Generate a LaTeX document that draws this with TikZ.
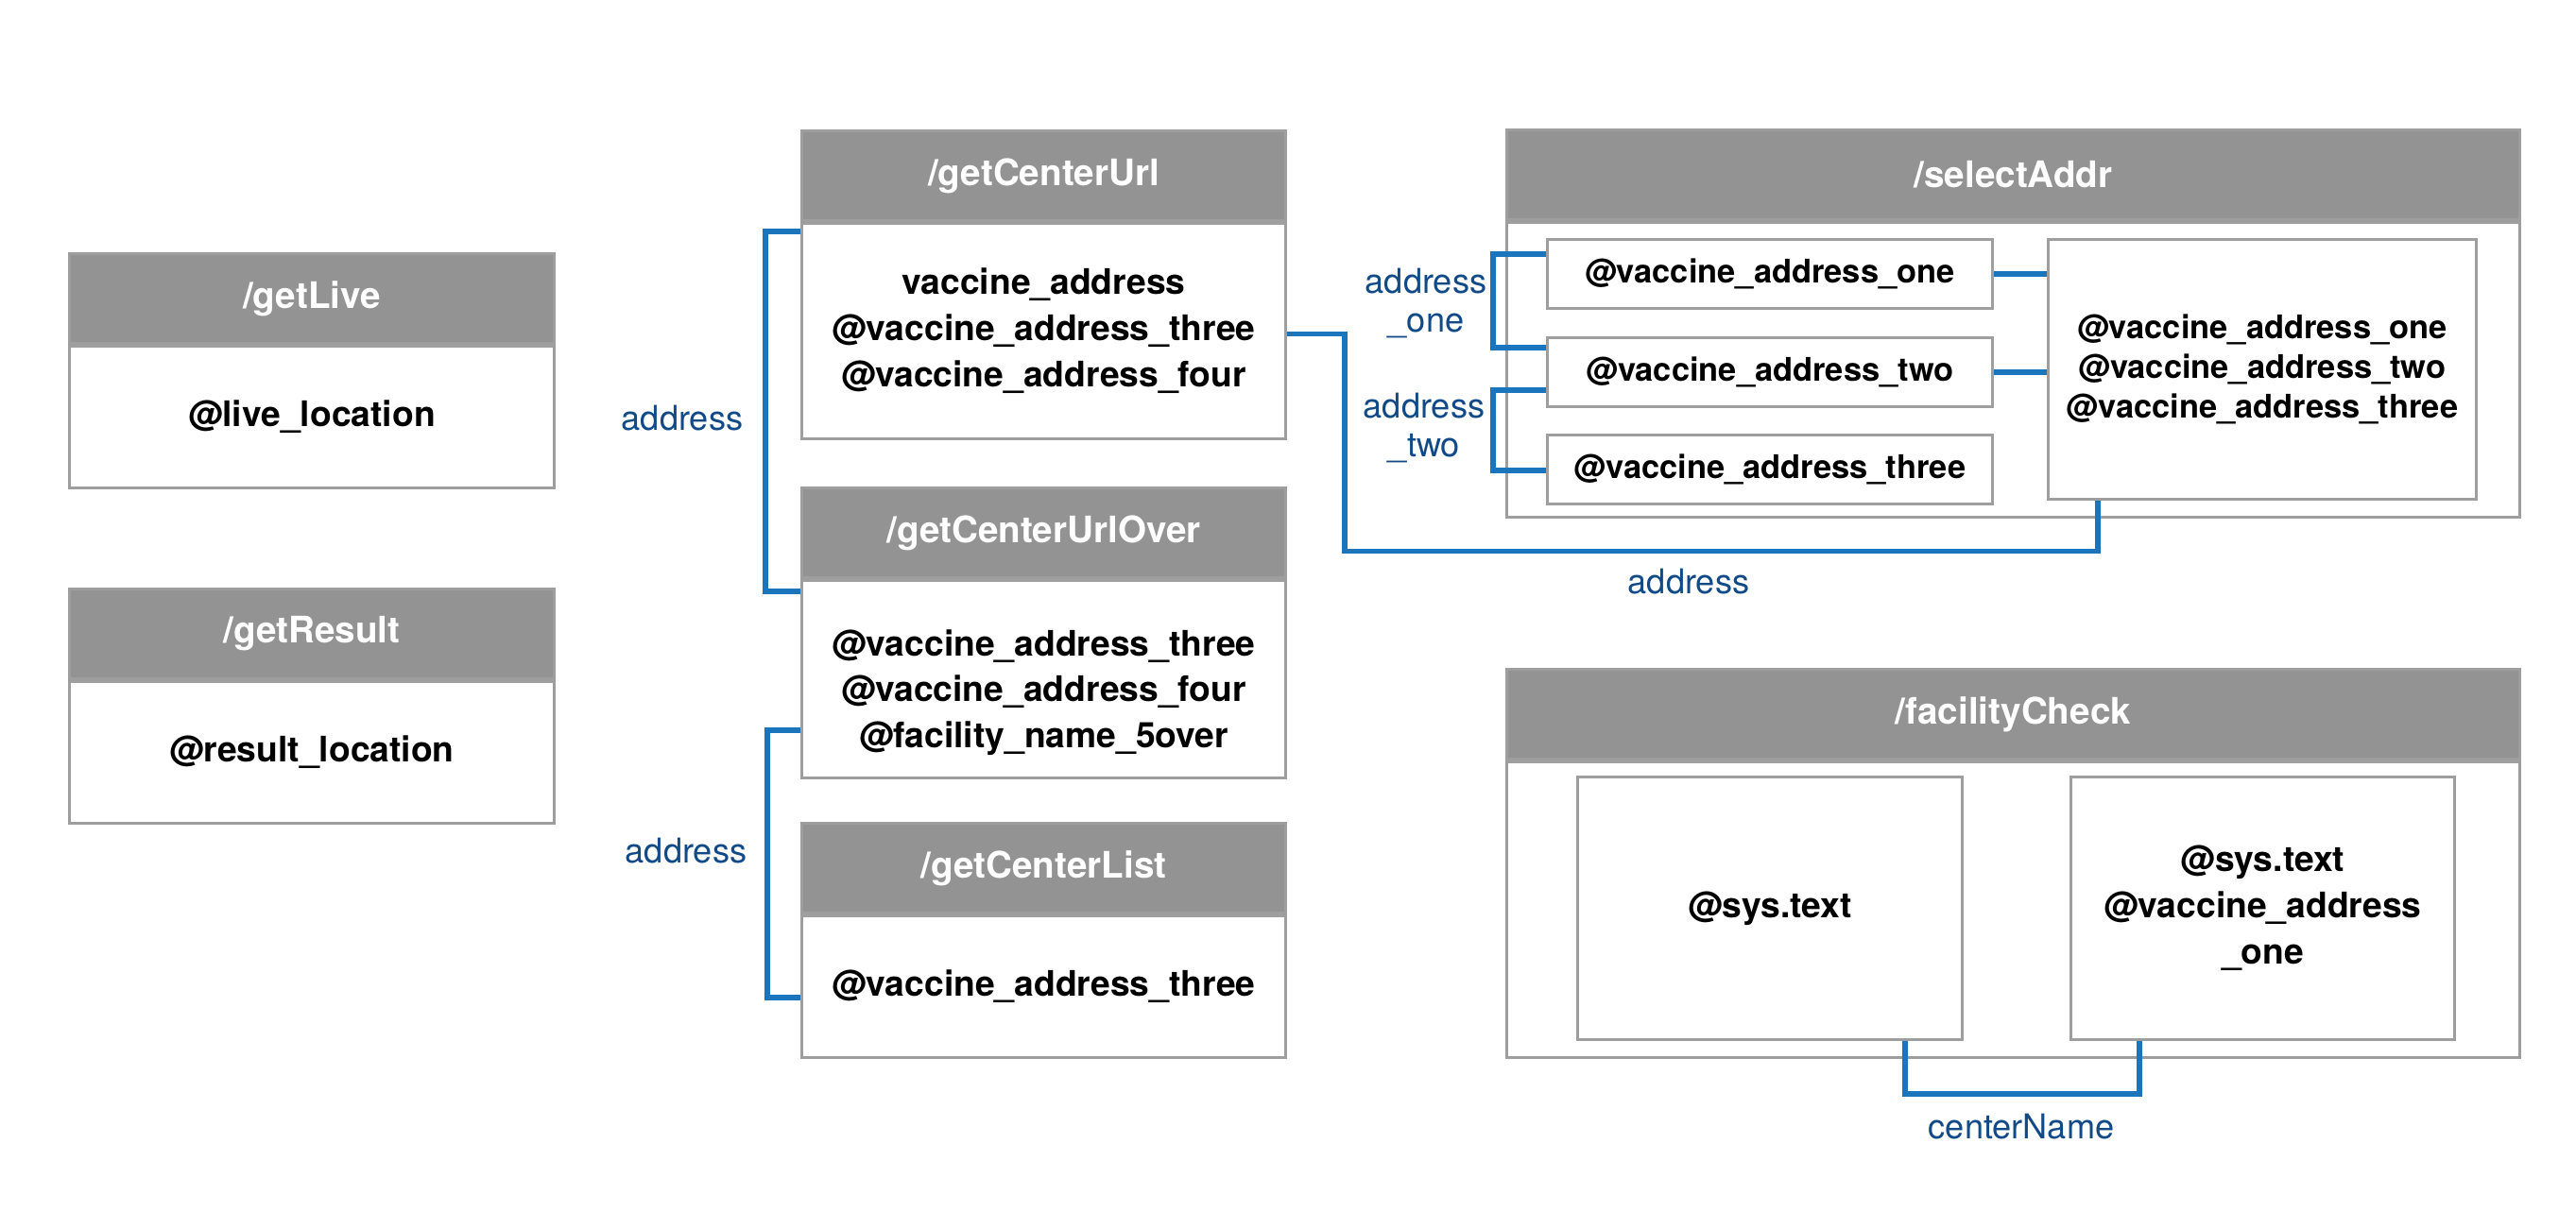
\documentclass[tikz,border=0pt]{standalone}
\usepackage{fontspec}
\setmainfont{TeX Gyre Heros}
\usepackage{tikz}
\usetikzlibrary{positioning, calc}

\definecolor{headgray}{RGB}{147,147,147}
\definecolor{linegray}{RGB}{158,158,158}
\definecolor{wireblue}{RGB}{27,117,188}
\definecolor{labelblue}{RGB}{17,74,134}

\begin{document}
\begin{tikzpicture}[node distance=0cm, line width=0.85pt]
	\tikzstyle{head} = [draw=linegray, fill=headgray, text=white, font=\bfseries\fontsize{11}{13}\selectfont, minimum height=0.95cm, inner sep=0pt, anchor=north west];
	\tikzstyle{body} = [draw=linegray, fill=white, font=\bfseries\fontsize{10.6}{13.9}\selectfont, align=center, inner sep=0pt];
	\tikzstyle{field} = [draw=linegray, fill=white, font=\bfseries\fontsize{9.8}{12}\selectfont, align=center, inner sep=0pt];
	\tikzstyle{wire} = [draw=wireblue, line width=1.5pt];
	\tikzstyle{lbl} = [text=labelblue, font=\fontsize{10.3}{11.4}\selectfont, align=center, inner sep=0pt];
	
	\useasboundingbox (0,0) rectangle (27.26,-12.82);
	
	\def \lw {5.13cm}
	\def \mw {5.12cm}
	\def \rw {10.72cm}
	
	% left column
	\node[head, minimum width=\lw] (liveh) at (0.72,-2.67) {/getLive};
	\node[body, minimum width=\lw, minimum height=1.50cm, below = of liveh] (liveb) {@live\_location};
	
	\node[head, minimum width=\lw] (resh) at (0.72,-6.22) {/getResult};
	\node[body, minimum width=\lw, minimum height=1.50cm, below = of resh] (resb) {@result\_location};
	
	% middle column
	\node[head, minimum width=\mw] (curlh) at (8.47,-1.37) {/getCenterUrl};
	\node[body, minimum width=\mw, minimum height=2.28cm, below = of curlh] (curlb) {vaccine\_address\\@vaccine\_address\_three\\@vaccine\_address\_four};
	
	\node[head, minimum width=\mw] (overh) at (8.47,-5.15) {/getCenterUrlOver};
	\node[body, minimum width=\mw, minimum height=2.09cm, below = of overh] (overb) {\rule{0pt}{0.56cm}@vaccine\_address\_three\\@vaccine\_address\_four\\@facility\_name\_5over};
	
	\node[head, minimum width=\mw] (listh) at (8.47,-8.70) {/getCenterList};
	\node[body, minimum width=\mw, minimum height=1.50cm, below = of listh] (listb) {@vaccine\_address\_three};
	
	% right column
	\node[head, minimum width=\rw] (selh) at (15.93,-1.36) {/selectAddr};
	\node[body, minimum width=\rw, minimum height=3.12cm, below = of selh] (selb) {};
	
	\node[field, minimum width=4.71cm, minimum height=0.73cm, anchor=north west] (one) at (16.36,-2.52) {@vaccine\_address\_one};
	\node[field, minimum width=4.71cm, minimum height=0.73cm, below = 0.28cm of one] (two) {@vaccine\_address\_two};
	\node[field, minimum width=4.71cm, minimum height=0.73cm, below = 0.27cm of two] (three) {@vaccine\_address\_three};
	\node[field, minimum width=4.53cm, minimum height=2.75cm, anchor=north west] (rbox) at (21.66,-2.52) {@vaccine\_address\_one\\@vaccine\_address\_two\\@vaccine\_address\_three};
	
	\node[head, minimum width=\rw] (fach) at (15.93,-7.07) {/facilityCheck};
	\node[body, minimum width=\rw, minimum height=3.13cm, below = of fach] (facb) {};
	
	\node[body, minimum width=4.07cm, minimum height=2.78cm, anchor=north west] (fl) at (16.68,-8.21) {@sys.text};
	\node[body, minimum width=4.06cm, minimum height=2.78cm, anchor=north west] (fr) at (21.90,-8.21) {@sys.text\\@vaccine\_address\\\_one};
	
	% connectors
	\draw[wire] ([yshift=-0.10cm]curlb.north west) -- ++(-0.37,0) |- ([yshift=-0.13cm]overb.north west);
	\draw[wire] ([yshift=0.52cm]overb.south west) -- ++(-0.35,0) |- ([yshift=-0.88cm]listb.north west);
	\draw[wire] ([yshift=-0.03cm]curlb.east) -- ++(0.61,0) -- ++(0,-2.30) -| ([xshift=0.54cm]rbox.south west);
	
	\draw[wire] ([yshift=-0.17cm]one.north west) -- ++(-0.56,0) |- ([yshift=-0.12cm]two.north west);
	\draw[wire] ([yshift=0.19cm]two.south west) -- ++(-0.56,0) |- ([yshift=-0.39cm]three.north west);
	\draw[wire] (one.east) -- (one.east -| rbox.west);
	\draw[wire] (two.east) -- (two.east -| rbox.west);
	
	\draw[wire] ([xshift=-0.62cm]fl.south east) -- ++(0,-0.56) -| ([xshift=0.74cm]fr.south west);
	
	% labels
	\node[lbl] (addr1) at (7.22,-4.43) {address};
	\node[lbl] (addr2) at (7.26,-9.01) {address};
	\node[lbl] (addr3) at (17.87,-6.16) {address};
	\node[lbl] (addrone) at (15.09,-3.21) {address\\\_one};
	\node[lbl] (addrtwo) at (15.07,-4.53) {address\\\_two};
	\node[lbl] (cname) at (21.39,-11.93) {centerName};
	
\end{tikzpicture}
\end{document}
